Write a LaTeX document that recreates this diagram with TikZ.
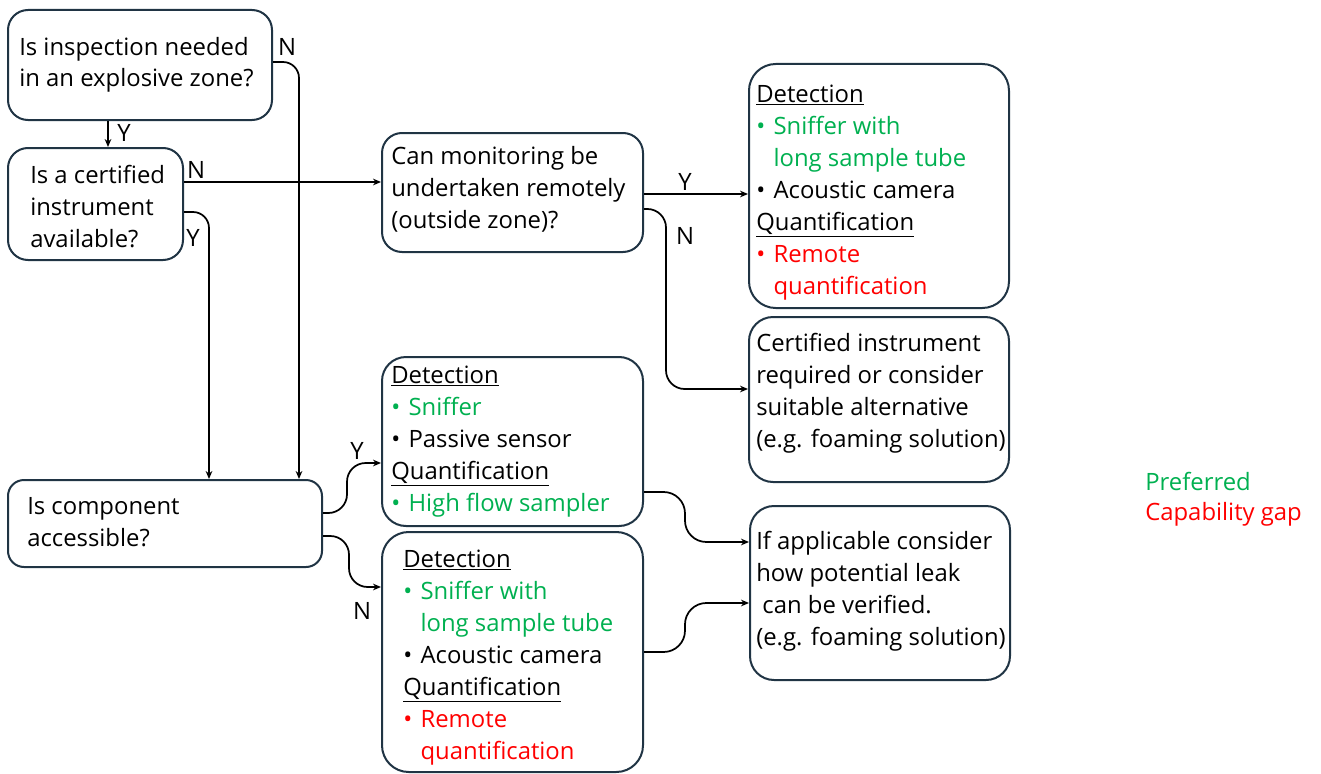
\documentclass[tikz,border=0pt]{standalone}
\usepackage{fontspec}
\setmainfont{Open Sans}
\usetikzlibrary{arrows.meta,calc,fit}
\definecolor{boxline}{RGB}{32,52,68}
\definecolor{prefgreen}{RGB}{0,176,80}
\definecolor{gapred}{RGB}{255,0,0}
\newcommand\bul{\makebox[13pt][l]{\textbullet}}
\newcommand\ind{\hspace*{13pt}}
\newcommand\good[1]{{\color{prefgreen}#1}}
\newcommand\gap[1]{{\color{gapred}#1}}
% a rounded box spanning two corner points given in pixel units
\newcommand\mkbox[6]{%
  \path (#2,#3) coordinate (#1-nw) (#4,#5) coordinate (#1-se);
  \node[box, rounded corners=#6, fit=(#1-nw)(#1-se)] (#1) {};}
\begin{document}
\begin{tikzpicture}[x=0.75pt,y=-0.75pt,
  box/.style={draw=boxline, line width=1.5pt, inner sep=0pt, rectangle},
  % multi-line texts are placed by the baseline of their last line
  txt/.style={anchor=base west, inner sep=0pt, align=left,
    font=\fontsize{17.9}{24}\selectfont},
  lbl/.style={anchor=center, inner sep=0pt, font=\fontsize{17.9}{24}\selectfont},
  arr/.style={draw=black, line width=1.3pt, -{Stealth[length=6pt,width=5pt]}}]
\useasboundingbox (0,0) rectangle (1321,774);

% boxes
\mkbox{qzone}{8}{10}{272}{120}{15pt}
\mkbox{qcert}{8}{148}{183}{260}{15pt}
\mkbox{qremote}{382}{133}{643}{252}{15pt}
\mkbox{remote}{749}{64}{1009}{308}{20pt}
\mkbox{certreq}{749}{317}{1009}{482}{18pt}
\mkbox{qaccess}{8}{480}{322}{567}{12pt}
\mkbox{access}{382}{357}{643}{526}{18pt}
\mkbox{noaccess}{382}{532}{643}{772}{20pt}
\mkbox{verify}{750}{506}{1010}{680}{18pt}

% box texts
\node[txt] (tzone) at (19,87) {Is inspection needed\\in an explosive zone?};
\node[txt] (tcert) at (30,247) {Is a certified\\instrument\\available?};
\node[txt] (tremote) at (391,228) {Can monitoring be\\undertaken remotely\\(outside zone)?};
\node[txt] (tremlist) at (756,294) {\underline{Detection}\\
  \good{\bul Sniffer with}\\ \good{\ind long sample tube}\\
  \bul Acoustic camera\\ \underline{Quantification}\\
  \gap{\bul Remote}\\ \gap{\ind quantification}};
\node[txt] (tcertreq) at (756,447) {Certified instrument\\required or consider\\suitable alternative\\(e.g. foaming solution)};
\node[txt] (taccessq) at (27,546) {Is component\\accessible?};
\node[txt] (taccess) at (391,511) {\underline{Detection}\\
  \good{\bul Sniffer}\\ \bul Passive sensor\\ \underline{Quantification}\\
  \good{\bul High flow sampler}};
\node[txt] (tnoaccess) at (403,759) {\underline{Detection}\\
  \good{\bul Sniffer with}\\ \good{\ind long sample tube}\\
  \bul Acoustic camera\\ \underline{Quantification}\\
  \gap{\bul Remote}\\ \gap{\ind quantification}};
\node[txt] (tverify) at (756,645) {If applicable consider\\how potential leak\\\ can be verified.\\(e.g. foaming solution)};

% legend
\node[txt] (legpref) at (1145,490) {\good{Preferred}};
\node[txt] (leggap) at (1145,520) {\gap{Capability gap}};

% connectors
\draw[arr] ($(qzone.south west)+(101,0)$) -- ($(qcert.north west)+(101,0)$);
\draw[arr, rounded corners=12pt] ($(qzone.north east)+(0,53)$) -| ($(qaccess.north west)+(292,0)$);
\draw[arr] ($(qcert.north east)+(0,35)$) coordinate (cN) -- (qremote.west |- cN);
\draw[arr, rounded corners=12pt] ($(qcert.north east)+(0,65)$) -| ($(qaccess.north west)+(202,0)$);
\draw[arr] ($(qremote.north east)+(0,62)$) coordinate (rY) -- (remote.west |- rY);
\draw[arr, rounded corners=14pt] ($(qremote.north east)+(0,77)$) -| ($(certreq.north west)+(-82,73)$) coordinate (rN) -- (certreq.west |- rN);
\draw[arr, rounded corners=14pt] ($(qaccess.north east)+(0,34)$) -| ($(access.north west)+(-34,107)$) coordinate (aY) -- (access.west |- aY);
\draw[arr, rounded corners=14pt] ($(qaccess.north east)+(0,57)$) -| ($(noaccess.north west)+(-32,56)$) coordinate (aN) -- (noaccess.west |- aN);
\draw[arr, rounded corners=16pt] ($(access.north east)+(0,136)$) -| ($(verify.north west)+(-64,37)$) coordinate (vA) -- (verify.west |- vA);
\draw[arr, rounded corners=16pt] ($(noaccess.north east)+(0,121)$) -| ($(verify.north west)+(-64,98)$) coordinate (vB) -- (verify.west |- vB);

% branch labels
\node[lbl] (lzY) at (124,133) {Y};
\node[lbl] (lzN) at (287,47) {N};
\node[lbl] (lcN) at (196,170) {N};
\node[lbl] (lcY) at (193,238) {Y};
\node[lbl] (lrY) at (685,182) {Y};
\node[lbl] (lrN) at (685,236) {N};
\node[lbl] (laY) at (357,451) {Y};
\node[lbl] (laN) at (362,611) {N};
\end{tikzpicture}
\end{document}
